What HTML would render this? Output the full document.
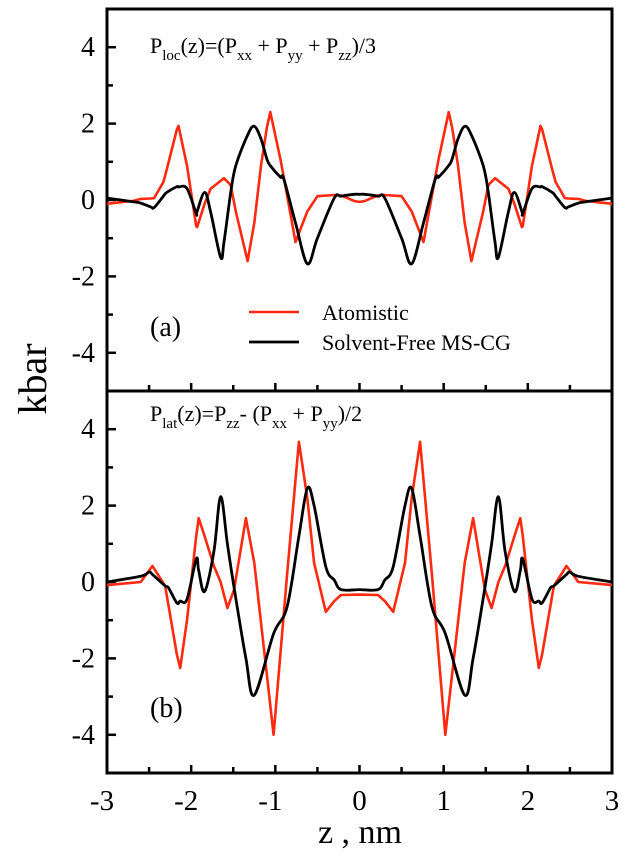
<!DOCTYPE html>
<html>
<head>
<meta charset="utf-8">
<style>
  html,body{margin:0;padding:0;background:#fff;}
  svg{display:block;font-family:"Liberation Serif","Times New Roman","DejaVu Serif",serif;}
  svg text{font-family:"Liberation Serif","Times New Roman","DejaVu Serif",serif !important;fill:#000;}
</style>
</head>
<body>
<svg id="chart" width="629" height="856" viewBox="0 0 629 856" xmlns="http://www.w3.org/2000/svg" font-family="Liberation Serif, serif">
  <g id="frames"></g>
  <g id="series"></g>
  <g id="labels" font-family="Liberation Serif, serif"></g>
</svg>
<script>
// ---- data (left half z in nm; curves are symmetric about z=0) ----
const zHalf     = [-3.0,-2.68,-2.6,-2.48,-2.44,-2.33,-2.29,-2.17,-2.15,-2.05,-1.94,-1.93,-1.84,-1.77,-1.65,-1.61,-1.53,-1.47,-1.33,-1.25,-1.17,-1.1,-1.06,-0.94,-0.9,-0.76,-0.62,-0.5,-0.3,-0.22,-0.06,0.0];
const topAtomistic = [-0.1,-0.02,0.03,0.04,0.05,0.47,0.8,1.85,1.94,0.9,-0.68,-0.71,-0.1,0.29,0.5,0.57,0.39,-0.3,-1.6,-0.6,0.9,1.9,2.3,1.07,0.6,-1.1,-0.3,0.1,0.13,0.12,-0.03,-0.05];
const topCG        = [0.05,-0.05,-0.08,-0.18,-0.2,0.1,0.2,0.35,0.34,0.3,-0.35,-0.3,0.2,-0.3,-1.5,-1.1,0.2,0.9,1.7,1.93,1.6,1.07,0.9,0.6,0.55,-0.6,-1.67,-1.0,0.05,0.1,0.15,0.15];
const zHalfB    = [-3.0,-2.6,-2.5,-2.46,-2.31,-2.27,-2.17,-2.13,-2.05,-1.94,-1.91,-1.84,-1.73,-1.65,-1.57,-1.49,-1.35,-1.25,-1.02,-0.86,-0.72,-0.62,-0.54,-0.4,-0.3,-0.22,0.0];
const botAtomistic = [-0.08,0.0,0.3,0.42,-0.1,-0.6,-1.9,-2.25,-1.0,1.2,1.67,1.2,0.42,0.0,-0.68,-0.2,1.67,0.5,-4.0,0.2,3.67,2.2,0.5,-0.78,-0.5,-0.34,-0.33];
const botCG        = [0.0,0.15,0.26,0.2,-0.1,-0.15,-0.55,-0.5,-0.45,0.6,0.3,-0.25,0.8,2.23,1.0,-0.15,-2.0,-2.96,-1.35,-0.65,1.2,2.45,2.0,0.4,0.05,-0.2,-0.2];
const xTicks = [-3,-2,-1,0,1,2,3];
const yTicks = [-4,-2,0,2,4];

// ---- axes ----
const X0=107, X1=612, PX=(X1-X0)/6;
const panels=[{top:9,bottom:391,zero:200},{top:391,bottom:773,zero:582}];
const UNIT=38.2;
const xs = z => X0 + (z+3)*PX;
const ysFor = p => v => p.zero - v*UNIT;
const NS="http://www.w3.org/2000/svg";
const FONT='"Liberation Serif","Times New Roman",serif';
function mk(tag, attrs, parent){const e=document.createElementNS(NS,tag);for(const k in attrs)e.setAttribute(k,attrs[k]);parent.appendChild(e);return e;}

const frames=document.getElementById('frames');
const labels=document.getElementById('labels');
const seriesG=document.getElementById('series');

panels.forEach((p,pi)=>{
  const fr=mk('rect',{x:X0,y:p.top,width:X1-X0,height:p.bottom-p.top,fill:'none',stroke:'#000','stroke-width':3},frames);
  
  
  const ys=ysFor(p);
  for(let v=-4;v<=4;v++){
    const len = v%2===0?9:6;
    const t=mk('line',{x1:X0,x2:X0+len,y1:ys(v),y2:ys(v),stroke:'#000','stroke-width':2.5},frames);
    
    
  }
  yTicks.forEach(v=>{
    const tl=mk('text',{x:95,y:ys(v)+9,'text-anchor':'end','font-size':28},labels);
    tl.style.fontFamily=FONT;
    tl.textContent=String(v);
    
    
  });
  for(let i=1;i<12;i++){
    const z=-3+i*0.5;
    const t=mk('line',{x1:xs(z),x2:xs(z),y1:p.bottom,y2:p.bottom-(i%2===0?8:6),stroke:'#000','stroke-width':2.5},frames);
    
    
  }
});
xTicks.forEach(v=>{
  const tl=mk('text',{x:xs(v)-(v<0?5:0),y:810,'text-anchor':'middle','font-size':29},labels);
  tl.style.fontFamily=FONT;
  tl.textContent=String(v);
  
  
});

function full(zh, vals){
  const zz=zh.slice(), vv=vals.slice();
  for(let i=zh.length-2;i>=0;i--){zz.push(-zh[i]);vv.push(vals[i]);}
  return [zz,vv];
}
function linePath(zh, vals, ys){
  const [zz,vv]=full(zh,vals);
  return zz.map((z,i)=>(i?'L':'M')+xs(z).toFixed(1)+','+ys(vv[i]).toFixed(1)).join(' ');
}
function smoothPath(zh, vals, ys){
  const [zz,vv]=full(zh,vals);
  const pts=zz.map((z,i)=>[xs(z),ys(vv[i])]);
  let d='M'+pts[0][0].toFixed(1)+','+pts[0][1].toFixed(1);
  for(let i=0;i<pts.length-1;i++){
    const p0=pts[Math.max(0,i-1)],p1=pts[i],p2=pts[i+1],p3=pts[Math.min(pts.length-1,i+2)];
    const c1=[p1[0]+(p2[0]-p0[0])/6,p1[1]+(p2[1]-p0[1])/6];
    const c2=[p2[0]-(p3[0]-p1[0])/6,p2[1]-(p3[1]-p1[1])/6];
    d+=' C'+c1[0].toFixed(1)+','+c1[1].toFixed(1)+' '+c2[0].toFixed(1)+','+c2[1].toFixed(1)+' '+p2[0].toFixed(1)+','+p2[1].toFixed(1);
  }
  return d;
}
const ysA=ysFor(panels[0]), ysB=ysFor(panels[1]);
let e;
e=mk('path',{d:linePath(zHalf,topAtomistic,ysA),fill:'none',stroke:'#ff2a10','stroke-width':2.6,'stroke-linejoin':'round'},seriesG);


e=mk('path',{d:smoothPath(zHalf,topCG,ysA),fill:'none',stroke:'#000','stroke-width':2.8},seriesG);


e=mk('path',{d:linePath(zHalfB,botAtomistic,ysB),fill:'none',stroke:'#ff2a10','stroke-width':2.6,'stroke-linejoin':'round'},seriesG);


e=mk('path',{d:smoothPath(zHalfB,botCG,ysB),fill:'none',stroke:'#000','stroke-width':2.8},seriesG);


</script>
<svg width="629" height="856" style="position:absolute;left:0;top:0" xmlns="http://www.w3.org/2000/svg" font-family="Liberation Serif, serif">
  <text x="150" y="53" font-size="22" font-family="Liberation Serif, serif">P<tspan font-size="15" dy="7">loc</tspan><tspan dy="-7">(z)=(P</tspan><tspan font-size="15" dy="7">xx</tspan><tspan dy="-7"> + P</tspan><tspan font-size="15" dy="7">yy</tspan><tspan dy="-7"> + P</tspan><tspan font-size="15" dy="7">zz</tspan><tspan dy="-7">)/3</tspan></text>
  <text x="150" y="336" font-size="28" font-family="Liberation Serif, serif">(a)</text>
  <line x1="249" y1="312" x2="299" y2="312" stroke="#ff2a10" stroke-width="2.6"/>
  <text x="322" y="320" font-size="22" font-family="Liberation Serif, serif">Atomistic</text>
  <line x1="249" y1="342" x2="299" y2="342" stroke="#000" stroke-width="2.8"/>
  <text x="322" y="350" font-size="22" font-family="Liberation Serif, serif">Solvent-Free MS-CG</text>
  <text x="150" y="421" font-size="22" font-family="Liberation Serif, serif">P<tspan font-size="15" dy="7">lat</tspan><tspan dy="-7">(z)=P</tspan><tspan font-size="15" dy="7">zz</tspan><tspan dy="-7">- (P</tspan><tspan font-size="15" dy="7">xx</tspan><tspan dy="-7"> + P</tspan><tspan font-size="15" dy="7">yy</tspan><tspan dy="-7">)/2</tspan></text>
  <text x="150" y="717" font-size="28" font-family="Liberation Serif, serif">(b)</text>
  <text x="360" y="843" font-size="34" text-anchor="middle" font-family="Liberation Serif, serif">z , nm</text>
  <text x="46" y="379" font-size="40" text-anchor="middle" transform="rotate(-90 46 379)" font-family="Liberation Serif, serif">kbar</text>
</svg>
</body>
</html>
